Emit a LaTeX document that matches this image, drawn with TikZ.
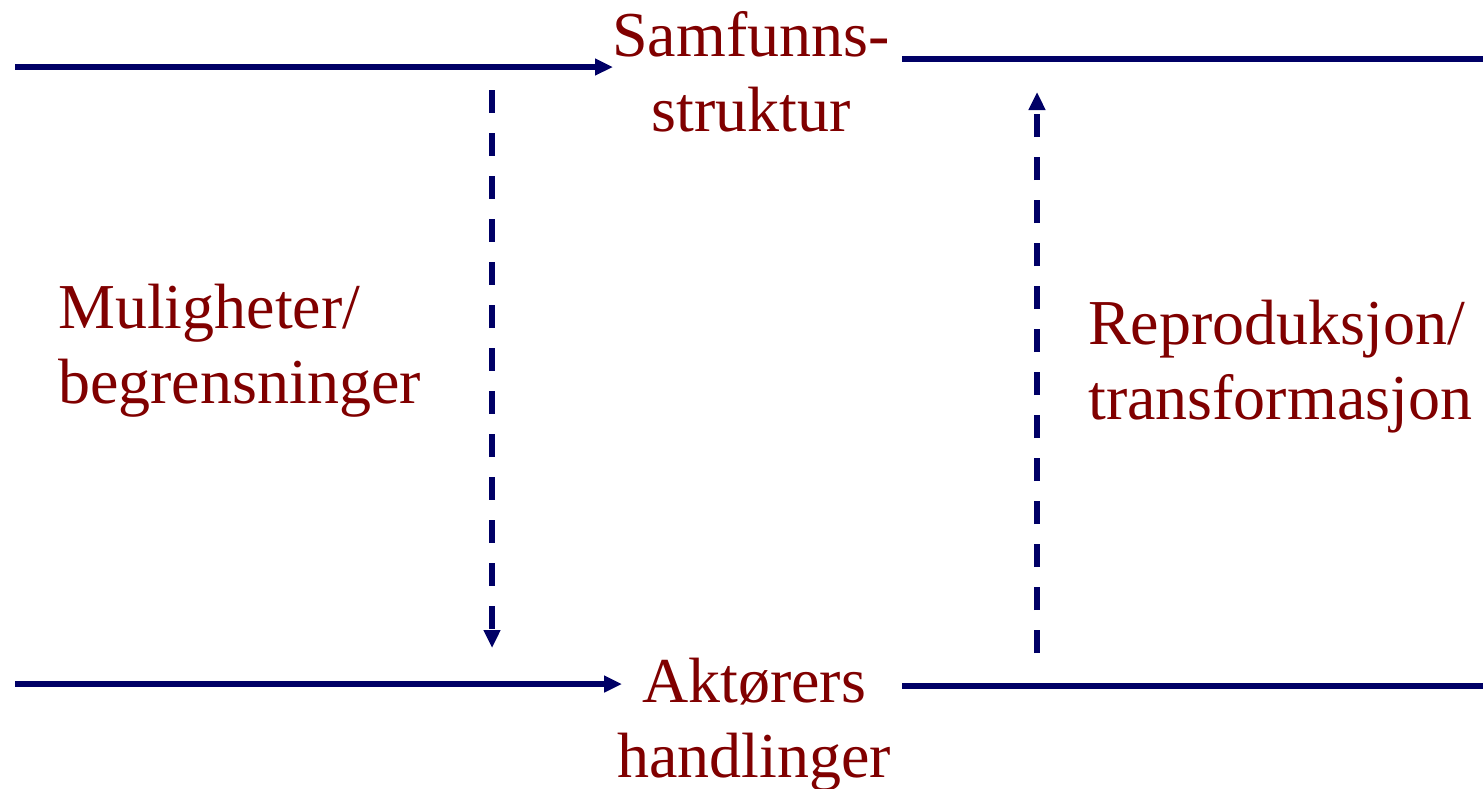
\documentclass[tikz,border=0pt]{standalone}
\usepackage{fontspec}
\setmainfont{Liberation Serif}
\usetikzlibrary{arrows.meta}
\definecolor{navyline}{RGB}{0,0,102}
\definecolor{darkred}{RGB}{128,0,0}
\tikzset{>/.tip={Triangle[length=18pt,width=16pt]},
  textlabel/.style={text=darkred,font=\fontsize{64}{75}\selectfont,inner sep=0pt},
  flow/.style={draw=navyline,line width=6pt},
  feedback/.style={flow,dash pattern=on 23pt off 20pt}}

\begin{document}
\begin{tikzpicture}[x=1pt,y=-1pt]
\useasboundingbox (0,0) rectangle (1483,788);
\node[textlabel,align=center,anchor=base] (sam) at (751,131) {Samfunns-\\struktur};
\node[textlabel,align=center,anchor=base] (akt) at (754,777) {Aktørers\\handlinger};
\node[textlabel,align=left,anchor=base west] (mul) at (58,403) {Muligheter/\\begrensninger};
\node[textlabel,align=left,anchor=base west] (rep) at (1088,419) {Reproduksjon/\\transformasjon};
\coordinate (sl) at (15,67);
\coordinate (st) at (613,67);
\coordinate (sr0) at (902,59);
\coordinate (sr1) at (1483,59);
\coordinate (al) at (15,684);
\coordinate (at) at (622,684);
\coordinate (ar0) at (902,686);
\coordinate (ar1) at (1483,686);
\coordinate (down0) at (492,90);
\coordinate (down1) at (492,648);
\coordinate (up0) at (1037,653);
\coordinate (up1) at (1037,92);
\draw[flow,->] (sl) to (st);
\draw[flow] (sr0) to (sr1);
\draw[flow,->] (al) to (at);
\draw[flow] (ar0) to (ar1);
\draw[feedback,->] (down0) to (down1);
\draw[feedback,->] (up0) to (up1);
\end{tikzpicture}
\end{document}
